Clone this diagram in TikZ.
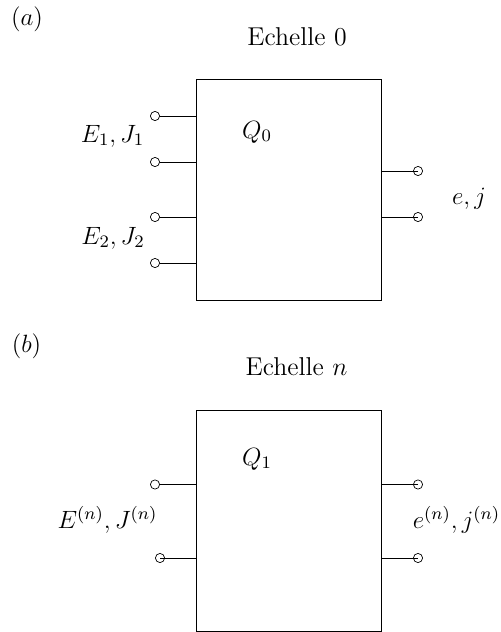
\documentclass[tikz,border=0pt]{standalone}
\usepackage{fix-cm}
\usepackage{amsmath,amssymb}
\usepackage{tikz}
\usetikzlibrary{positioning,calc}
\tikzset{
  blk/.style={draw,line width=0.45pt,minimum width=92.25pt,minimum height=110.5pt,inner sep=0pt},
  term/.style={draw,circle,line width=0.35pt,minimum size=4.6pt,inner sep=0pt},
  wire/.style={line width=0.45pt},
  lbl/.style={inner sep=0pt,font=\fontsize{12.5}{15}\selectfont},
  ttl/.style={inner sep=0pt,font=\fontsize{12.9}{15}\selectfont},
}
\begin{document}
\begin{tikzpicture}[x=0.5pt,y=-0.5pt]
  \useasboundingbox (0,0) rectangle (500,632);
  % --- panel a ---
  \node[lbl] (tagA) at (27,19) {$(a)$};
  \node[ttl] (titleA) at (297,37) {Echelle $0$};
  \node[blk] (qA) at (288.75,189.5) {};
  \node[lbl] (nameA) at (257,132) {$Q_0$};
  \node[term,fill=white] (i1) at (155,116) {};
  \node[term,fill=white] (i2) at (155,162) {};
  \node[term,fill=white] (i3) at (155,217) {};
  \node[term,fill=white] (i4) at (155,263) {};
  \node[term] (o1) at (418,171) {};
  \node[term] (o2) at (418,217) {};
  \node[lbl] (inA) at (112.5,136) {$E_1,J_1$};
  \node[lbl] (inB) at (113,238) {$E_2,J_2$};
  \node[lbl] (outA) at (469,199) {$e,j$};
  \draw[wire] (i1) -- (i1 -| qA.west);
  \draw[wire] (i2) -- (i2 -| qA.west);
  \draw[wire] (i3) -- (i3 -| qA.west);
  \draw[wire] (i4) -- (i4 -| qA.west);
  \draw[wire] (o1.center) -- (o1 -| qA.east);
  \draw[wire] (o2.center) -- (o2 -| qA.east);
  % --- panel b ---
  \node[lbl] (tagB) at (26.5,346) {$(b)$};
  \node[ttl] (titleB) at (296.5,367) {Echelle $n$};
  \node[blk] (qB) at (288.75,520.5) {};
  \node[lbl] (nameB) at (257,459) {$Q_1$};
  \node[term,fill=white] (j1) at (155,484.5) {};
  \node[term] (j2) at (160,558) {};
  \node[term] (p1) at (418,484.5) {};
  \node[term] (p2) at (418,558) {};
  \node[lbl] (inC) at (107.5,520) {$E^{(n)},J^{(n)}$};
  \node[lbl] (outB) at (456.5,520) {$e^{(n)},j^{(n)}$};
  \draw[wire] (j1) -- (j1 -| qB.west);
  \draw[wire] (j2.center) -- (j2 -| qB.west);
  \draw[wire] (p1.center) -- (p1 -| qB.east);
  \draw[wire] (p2.center) -- (p2 -| qB.east);
\end{tikzpicture}
\end{document}
